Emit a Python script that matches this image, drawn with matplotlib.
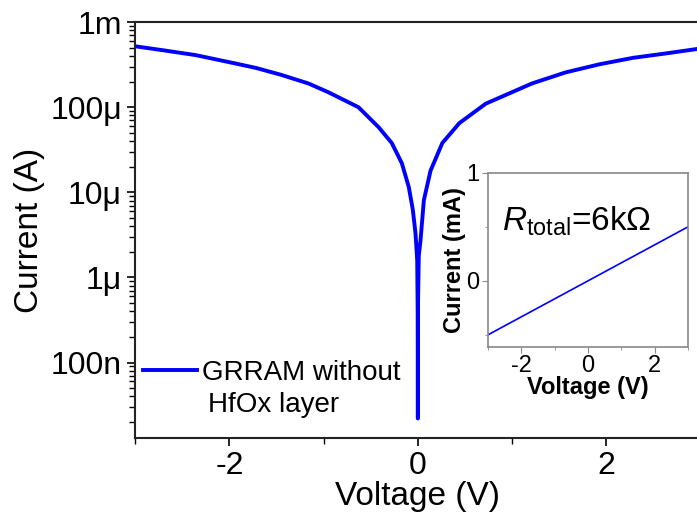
import numpy as np
import matplotlib
matplotlib.use('Agg')
import matplotlib.pyplot as plt
from matplotlib.ticker import LogLocator, NullFormatter, MultipleLocator

plt.rcParams['font.family'] = ['Liberation Sans', 'DejaVu Sans']
plt.rcParams['mathtext.fontset'] = 'custom'
plt.rcParams['mathtext.rm'] = 'Liberation Sans'
plt.rcParams['mathtext.it'] = 'Liberation Sans:italic'

# main I-V sweep
voltage = [-3.0, -2.72, -2.36, -2.01, -1.72, -1.45, -1.16, -0.95, -0.63, -0.415, -0.277,
           -0.17, -0.096, -0.053, -0.025, -0.007, -0.002, 0.0, 0.002, 0.01, 0.028, 0.064,
           0.135, 0.26, 0.44, 0.72, 1.21, 1.57, 1.93, 2.28, 2.64, 3.0]
current = [5.2e-4, 4.7e-4, 4.1e-4, 3.4e-4, 2.9e-4, 2.4e-4, 1.9e-4, 1.5e-4, 1.0e-4, 5.8e-5, 3.8e-5,
           2.2e-5, 1.15e-5, 6.2e-6, 3.3e-6, 1.6e-6, 4e-7, 2.2e-8, 5e-7, 1.8e-6, 2.7e-6, 8.1e-6,
           1.8e-5, 3.8e-5, 6.5e-5, 1.1e-4, 1.9e-4, 2.57e-4, 3.2e-4, 3.8e-4, 4.3e-4, 4.9e-4]

# inset linear sweep, mA
inset_v = [-3.0, 3.0]
inset_i = [-0.5, 0.5]

ytick_vals = [1e-7, 1e-6, 1e-5, 1e-4, 1e-3]
ytick_labels = ['100n', '1\u03bc', '10\u03bc', '100\u03bc', '1m']

fig = plt.figure(figsize=(6.97, 5.27), dpi=100)
ax = fig.add_axes([0.194, 0.169, 0.811, 0.789])

ax.plot(voltage, current, color='#0000ff', lw=2.8, label='GRRAM without')
ax.set_yscale('log')
ax.set_xlim(-3, 3)
ax.set_ylim(1.3e-8, 1e-3)
ax.set_yticks(ytick_vals)
ax.set_yticklabels(ytick_labels)
ax.yaxis.set_minor_locator(LogLocator(base=10, subs=np.arange(2, 10)))
ax.yaxis.set_minor_formatter(NullFormatter())
ax.set_xticks([-2, 0, 2])
ax.set_xticklabels(['-2', '0', '2'])
ax.xaxis.set_minor_locator(MultipleLocator(1))
ax.tick_params(which='major', direction='out', length=6, width=1.2, labelsize=23)
ax.tick_params(which='minor', direction='out', length=4, width=1.0)
for s in ax.spines.values():
    s.set_linewidth(1.5)
    s.set_color('#222222')
ax.set_xlabel('Voltage (V)', fontsize=24, labelpad=0)
ax.set_ylabel('Current (A)', fontsize=24, labelpad=4)

ax.legend(loc='center left', bbox_to_anchor=(0.014, 0.156), frameon=False, fontsize=20,
          handlelength=1.95, handletextpad=0.18, borderpad=0, borderaxespad=0)
ax.text(0.129, 0.079, 'HfOx layer', transform=ax.transAxes, fontsize=20, va='center', ha='left')

# inset
ins = fig.add_axes([0.700, 0.342, 0.287, 0.330])
ins.plot(inset_v, inset_i, color='#0000ff', lw=1.2)
ins.set_xlim(-3, 3)
ins.set_ylim(-0.61, 1)
ins.set_xticks([-2, 0, 2])
ins.set_xticklabels(['-2', '0', '2'])
ins.set_yticks([0, 1])
ins.set_yticklabels(['0', '1'])
ins.xaxis.set_minor_locator(MultipleLocator(1))
ins.yaxis.set_minor_locator(MultipleLocator(0.5))
ins.tick_params(which='both', direction='out', color='#888888', labelsize=17, pad=2)
ins.tick_params(which='major', length=4)
ins.tick_params(which='minor', length=2.5)
for s in ins.spines.values():
    s.set_color('#888888')
    s.set_linewidth(1.2)
ins.set_xlabel('Voltage (V)', fontsize=17, fontweight='bold', labelpad=-1)
ins.set_ylabel('Current (mA)', fontsize=17, fontweight='bold', labelpad=0)
ins.text(0.07, 0.72, r'$\mathit{R}_{\mathrm{total}}$=6k$\Omega$', transform=ins.transAxes,
         fontsize=24, va='center', ha='left')

fig.savefig('out.png', dpi=100)
